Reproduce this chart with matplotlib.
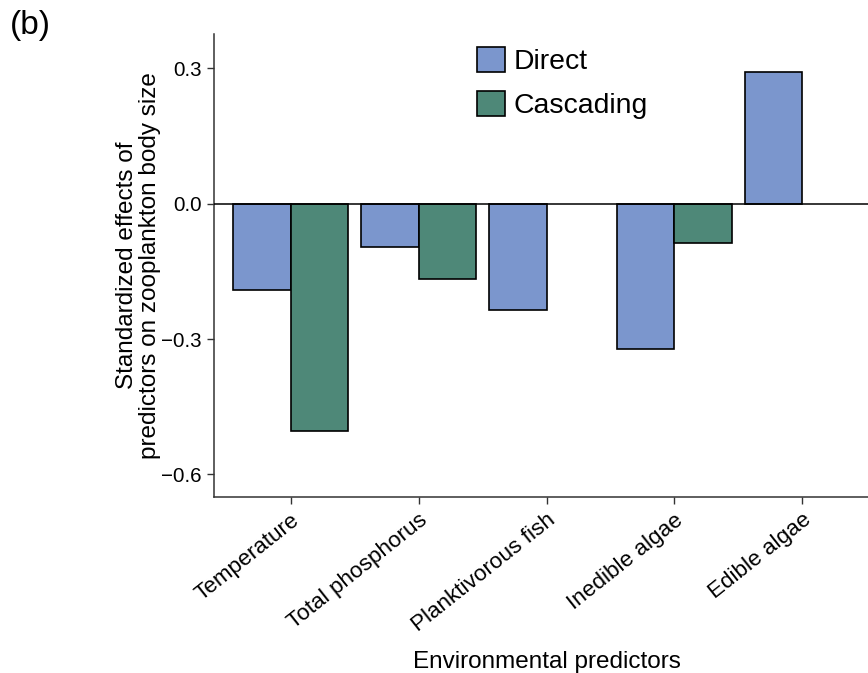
import numpy as np
import matplotlib
matplotlib.use('Agg')
import matplotlib.pyplot as plt
import matplotlib.transforms as mtransforms
from matplotlib.patches import Patch

plt.rcParams['font.family'] = ['Liberation Sans', 'DejaVu Sans']

# Standardized effects on zooplankton body size
predictors = ['Temperature', 'Total phosphorus', 'Planktivorous fish',
              'Inedible algae', 'Edible algae']
direct = [-0.192, -0.096, -0.236, -0.323, 0.291]
cascading = [-0.504, -0.167, np.nan, -0.087, np.nan]
yticks = [-0.6, -0.3, 0.0, 0.3]

c_direct = '#7b96cd'
c_casc = '#4e8878'

W, H = 868, 673
fig = plt.figure(figsize=(W / 100, H / 100), dpi=100)
ax = fig.add_axes([214 / W, 176 / H, 665 / W, 463 / H])

x = np.arange(1, len(predictors) + 1)
bw = 0.45
ax.bar(x - bw / 2, direct, width=bw, color=c_direct, edgecolor='black',
       linewidth=1.2, zorder=2)
ax.bar(x + bw / 2, cascading, width=bw, color=c_casc, edgecolor='black',
       linewidth=1.2, zorder=2)
ax.axhline(0, color='black', linewidth=1.1, zorder=3)

ax.set_xlim(0.4, 5.6)
ax.set_ylim(-0.650, 0.376)
ax.set_xticks(x)
ax.set_xticklabels(predictors, rotation=38.5, ha='right', va='top',
                   rotation_mode='anchor', fontsize=16.2)
# shift rotated labels a little to the right of their ticks
shift = mtransforms.ScaledTranslation(7 / 100, 0, fig.dpi_scale_trans)
for lbl in ax.get_xticklabels():
    lbl.set_transform(lbl.get_transform() + shift)
ax.set_yticks(yticks)
ax.set_yticklabels(['\u22120.6', '\u22120.3', '0.0', '0.3'], fontsize=14.8)
ax.tick_params(length=5, width=1, color='#333333', pad=4)

for side in ['top', 'right']:
    ax.spines[side].set_visible(False)
for side in ['left', 'bottom']:
    ax.spines[side].set_color('#333333')
    ax.spines[side].set_linewidth(1.1)

ax.set_xlabel('Environmental predictors', fontsize=17.5, va='baseline')
ax.xaxis.set_label_coords(0.5, -0.369)
ax.set_ylabel('Standardized effects of\npredictors on zooplankton body size',
              fontsize=17.5, va='center', linespacing=1.05)
ax.yaxis.set_label_coords(-0.113, 0.5)

handles = [Patch(facecolor=c_direct, edgecolor='black', linewidth=1.2),
           Patch(facecolor=c_casc, edgecolor='black', linewidth=1.2)]
fig.legend(handles, ['Direct', 'Cascading'], loc='upper left',
           bbox_to_anchor=(477 / W, 1 - 47 / H), frameon=False,
           fontsize=20.4, handlelength=1.0, handleheight=1.0,
           handletextpad=0.3, labelspacing=0.55, borderpad=0,
           borderaxespad=0)

fig.text(10 / W, 1 - 10 / H, '(b)', fontsize=24, ha='left', va='top')

fig.savefig('out.png', dpi=100)
